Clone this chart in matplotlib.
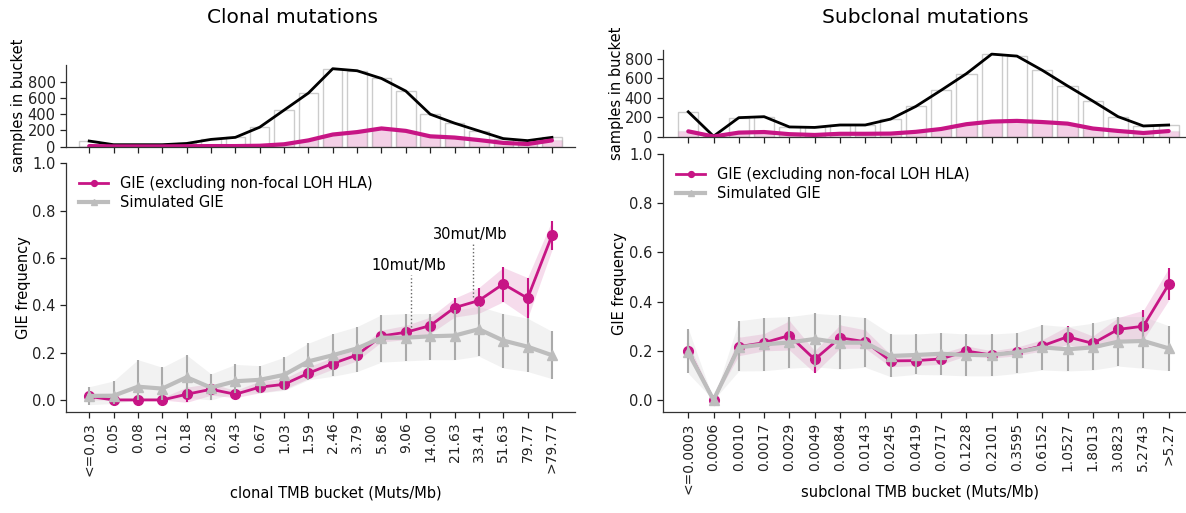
import numpy as np
import matplotlib
matplotlib.use("Agg")
import matplotlib.pyplot as plt

plt.rcParams['font.family'] = ['DejaVu Sans']
plt.rcParams['font.size'] = 10

MAGENTA = '#c71585'
GREY = '#bdbdbd'

# ---- clonal data ----
clonal_labels = ["<=0.03", "0.05", "0.08", "0.12", "0.18", "0.28", "0.43", "0.67", "1.03", "1.59",
                 "2.46", "3.79", "5.86", "9.06", "14.00", "21.63", "33.41", "51.63", "79.77", ">79.77"]
clonal_total = [70, 25, 25, 25, 40, 90, 115, 240, 450, 660, 960, 935, 840, 685, 400, 290, 195, 100, 75, 115]
clonal_gie_n = [8, 4, 4, 4, 6, 8, 8, 12, 30, 78, 150, 180, 225, 195, 128, 113, 82, 47, 33, 78]
clonal_gie = [0.015, 0.0, 0.0, 0.0, 0.024, 0.045, 0.024, 0.054, 0.066, 0.113,
              0.154, 0.19, 0.27, 0.286, 0.314, 0.39, 0.42, 0.49, 0.43, 0.695]
clonal_gie_lo = [0.0, 0.0, 0.0, 0.0, -0.01, 0.02, 0.01, 0.03, 0.045, 0.09,
                 0.13, 0.165, 0.245, 0.255, 0.28, 0.35, 0.366, 0.415, 0.345, 0.634]
clonal_gie_hi = [0.03, 0.01, 0.01, 0.01, 0.054, 0.07, 0.04, 0.08, 0.09, 0.14,
                 0.18, 0.215, 0.295, 0.315, 0.35, 0.43, 0.475, 0.56, 0.517, 0.758]
clonal_sim = [0.017, 0.018, 0.056, 0.048, 0.096, 0.052, 0.079, 0.085, 0.106, 0.163,
              0.189, 0.218, 0.263, 0.263, 0.269, 0.272, 0.299, 0.251, 0.225, 0.189]
clonal_sim_lo = [-0.02, -0.015, 0.0, 0.0, 0.01, 0.0, 0.03, 0.03, 0.04, 0.085,
                 0.1, 0.12, 0.16, 0.165, 0.17, 0.17, 0.185, 0.135, 0.12, 0.09]
clonal_sim_hi = [0.056, 0.08, 0.17, 0.138, 0.19, 0.11, 0.15, 0.145, 0.18, 0.24,
                 0.28, 0.31, 0.36, 0.365, 0.365, 0.38, 0.395, 0.365, 0.345, 0.29]

# ---- subclonal data ----
sub_labels = ["<=0.0003", "0.0006", "0.0010", "0.0017", "0.0029", "0.0049", "0.0084", "0.0143", "0.0245", "0.0419",
              "0.0717", "0.1228", "0.2101", "0.3595", "0.6152", "1.0527", "1.8013", "3.0823", "5.2743", ">5.27"]
sub_total = [255, 5, 195, 205, 100, 95, 120, 120, 180, 310, 475, 645, 845, 825, 680, 520, 365, 205, 110, 120]
sub_gie_n = [55, 2, 42, 48, 26, 18, 30, 30, 32, 50, 79, 128, 155, 162, 150, 134, 84, 59, 38, 58]
sub_gie = [0.199, 0.0, 0.217, 0.233, 0.262, 0.165, 0.253, 0.237, 0.159, 0.16,
           0.167, 0.199, 0.183, 0.196, 0.22, 0.257, 0.23, 0.287, 0.30, 0.47]
sub_gie_lo = [0.17, 0.0, 0.18, 0.2, 0.203, 0.11, 0.21, 0.21, 0.135, 0.14,
              0.145, 0.18, 0.17, 0.18, 0.2, 0.225, 0.205, 0.24, 0.245, 0.405]
sub_gie_hi = [0.23, 0.005, 0.255, 0.27, 0.322, 0.2, 0.305, 0.285, 0.185, 0.185,
              0.19, 0.22, 0.2, 0.215, 0.245, 0.3, 0.26, 0.335, 0.365, 0.535]
sub_sim = [0.194, 0.0, 0.214, 0.226, 0.234, 0.248, 0.233, 0.233, 0.179, 0.183,
           0.188, 0.183, 0.183, 0.194, 0.214, 0.206, 0.214, 0.237, 0.24, 0.21]
sub_sim_lo = [0.108, 0.0, 0.118, 0.119, 0.129, 0.135, 0.126, 0.133, 0.095, 0.104,
              0.102, 0.098, 0.098, 0.108, 0.122, 0.118, 0.122, 0.138, 0.129, 0.119]
sub_sim_hi = [0.29, 0.0, 0.322, 0.335, 0.339, 0.352, 0.345, 0.335, 0.268, 0.268,
              0.274, 0.268, 0.268, 0.274, 0.306, 0.298, 0.312, 0.339, 0.339, 0.302]

# TMB thresholds marked on the clonal panel
marks = [10, 30]


def style_axis(ax):
    ax.spines['top'].set_visible(False)
    ax.spines['right'].set_visible(False)
    for s in ['left', 'bottom']:
        ax.spines[s].set_color('#333333')
        ax.spines[s].set_linewidth(0.9)
    ax.tick_params(colors='#222222', length=4, width=0.9)
    ax.tick_params(axis='y', labelsize=10.5)


def draw_counts(ax, total, gie_n, ylim):
    x = np.arange(len(total))
    ax.bar(x, total, width=0.8, facecolor='white', edgecolor='#cccccc', linewidth=1.0)
    ax.bar(x, gie_n, width=0.8, facecolor=MAGENTA, alpha=0.2, edgecolor='#bbbbbb', linewidth=1.0)
    ax.plot(x, total, color='black', lw=2)
    ax.plot(x, gie_n, color=MAGENTA, lw=3, solid_capstyle='round', solid_joinstyle='round')
    ax.set_ylim(*ylim)
    ax.set_yticks([0, 200, 400, 600, 800])
    ax.set_xticks(x)
    ax.set_xticklabels([])
    ax.set_ylabel('samples in bucket', fontsize=10.5)
    style_axis(ax)


def draw_freq(ax, labels, gie, lo, hi, sim, slo, shi, xlabel):
    x = np.arange(len(labels))
    gie = np.array(gie)
    sim = np.array(sim)
    ax.fill_between(x, lo, hi, color=MAGENTA, alpha=0.15, lw=0)
    ax.fill_between(x, slo, shi, color='#cccccc', alpha=0.25, lw=0)
    ax.errorbar(x, gie, yerr=[gie - np.array(lo), np.array(hi) - gie], fmt='none',
                ecolor=MAGENTA, elinewidth=1.5, capsize=0)
    ax.plot(x, gie, color=MAGENTA, lw=2, marker='o', ms=7,
            label='GIE (excluding non-focal LOH HLA)')
    ax.errorbar(x, sim, yerr=[sim - np.array(slo), np.array(shi) - sim], fmt='none',
                ecolor='#aaaaaa', elinewidth=1.5, capsize=0)
    ax.plot(x, sim, color=GREY, lw=3, marker='^', ms=7, label='Simulated GIE')
    ax.set_ylim(-0.05, 1.0)
    ax.set_yticks([0, 0.2, 0.4, 0.6, 0.8, 1.0])
    ax.set_xticks(x)
    ax.set_xticklabels(labels, rotation=90)
    ax.set_ylabel('GIE frequency', fontsize=10.5)
    ax.set_xlabel(xlabel, fontsize=10.5)
    ax.legend(loc='upper left', frameon=False, fontsize=10.5, labelspacing=0.25,
              markerscale=0.6, handlelength=2.0)
    style_axis(ax)


fig = plt.figure(figsize=(11.86, 5.13), dpi=100)

# clonal
ax_ct = fig.add_axes([0.0557, 0.714, 0.4292, 0.160])
ax_cf = fig.add_axes([0.0557, 0.1973, 0.4292, 0.4844])
draw_counts(ax_ct, clonal_total, clonal_gie_n, (0, 1010))
draw_freq(ax_cf, clonal_labels, clonal_gie, clonal_gie_lo, clonal_gie_hi,
          clonal_sim, clonal_sim_lo, clonal_sim_hi, 'clonal TMB bucket (Muts/Mb)')
for a in (ax_ct, ax_cf):
    a.set_xlim(-0.95, 19.95)
ax_cf.yaxis.set_label_coords(-0.068, 0.5)
ax_ct.yaxis.set_label_coords(-0.078, 0.5)
ax_cf.xaxis.set_label_coords(0.53, -0.295)

# position of 10 and 30 mut/Mb on the bucket axis (log interpolation between edges)
edges = np.array([float(v) for v in clonal_labels[1:-1]])
idx = np.arange(1, len(edges) + 1)
edges = np.concatenate([[0.03], edges])
idx = np.concatenate([[0], idx])
text_y = [0.57, 0.70]
line_top = [0.53, 0.66]
line_bot = [0.31, 0.437]
for m, ty, lt, lb in zip(marks, text_y, line_top, line_bot):
    mx = np.interp(np.log(m), np.log(edges), idx)
    ax_cf.plot([mx, mx], [lb, lt], color='#666666', lw=1, ls=':')
    ax_cf.text(mx - 0.1, ty, f'{m}mut/Mb', ha='center', va='center', fontsize=10.5)

# subclonal
ax_st = fig.add_axes([0.559, 0.7335, 0.4477, 0.169])
ax_sf = fig.add_axes([0.559, 0.1963, 0.4477, 0.5035])
draw_counts(ax_st, sub_total, sub_gie_n, (0, 887))
draw_freq(ax_sf, sub_labels, sub_gie, sub_gie_lo, sub_gie_hi,
          sub_sim, sub_sim_lo, sub_sim_hi, 'subclonal TMB bucket (Muts/Mb)')
for a in (ax_st, ax_sf):
    a.set_xlim(-1.0, 20.0)
ax_sf.yaxis.set_label_coords(-0.067, 0.5)
ax_st.yaxis.set_label_coords(-0.073, 0.5)
ax_sf.xaxis.set_label_coords(0.484, -0.281)

fig.text(0.247, 0.965, 'Clonal mutations', ha='center', va='center', fontsize=14.5)
fig.text(0.780, 0.965, 'Subclonal mutations', ha='center', va='center', fontsize=14.5)

plt.savefig('out.png', dpi=100)
